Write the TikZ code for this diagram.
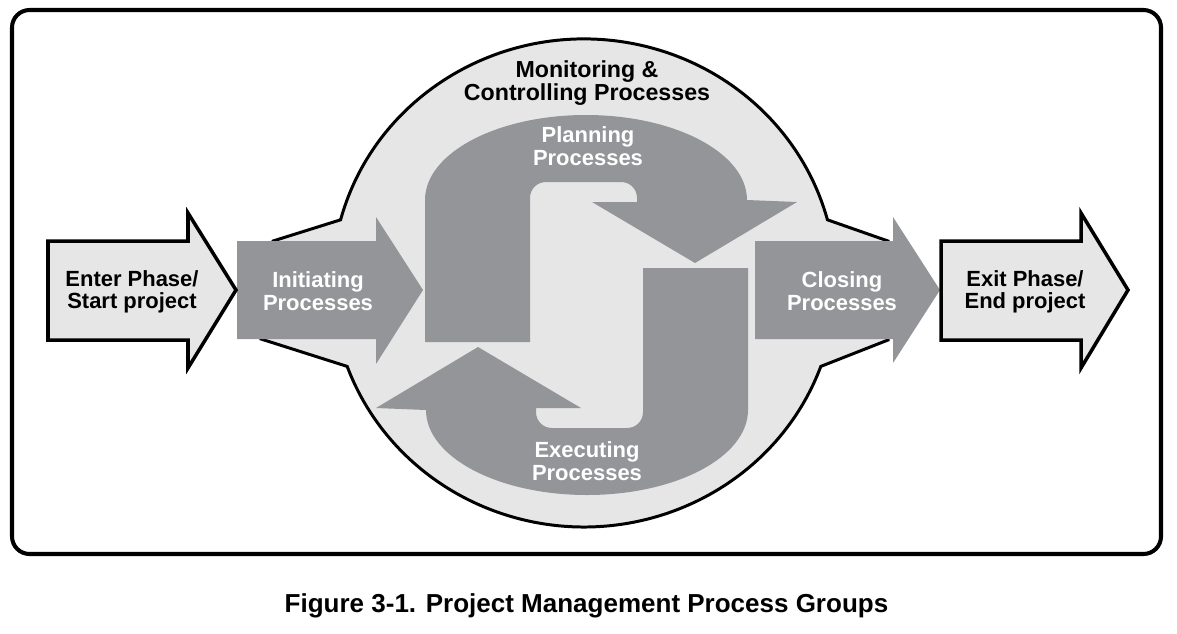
\documentclass[tikz,border=0pt]{standalone}
\usepackage{fontspec}
\setmainfont{Liberation Sans}
\usetikzlibrary{positioning}

\definecolor{processgray}{HTML}{939598}
\definecolor{phasegray}{HTML}{E6E6E6}

\begin{document}
\begin{tikzpicture}[x=0.02cm, y=-0.02cm,
        box_text/.style={font=\fontsize{12.5}{12.8}\selectfont\bfseries, align=center, inner sep=0pt},
        white_text/.style={box_text, text=white},
        process/.style={fill=processgray, draw=none},
        phase/.style={fill=phasegray, draw=black, line width=2pt, line join=miter}]
            \useasboundingbox (0, 0) rectangle (1177, 633);

            % frame
            \draw[line width=2.3pt, rounded corners=10] (12, 10) rectangle (1161, 554);

            % monitoring & controlling area
            \draw[fill=phasegray, line width=1.7pt, line join=miter]
                (273, 241) -- (340.6, 219.8)
                arc[start angle=195, end angle=345, x radius=252, y radius=244]
                -- (888, 241) -- (888, 340) -- (820.8, 366.4)
                arc[start angle=20, end angle=160, x radius=252, y radius=244]
                -- (261, 339) -- cycle;

            % planning and executing
            \fill[process] (425, 342) -- (425, 200)
                arc[start angle=180, end angle=360, x radius=161, y radius=85]
                -- (797, 202) -- (695, 263) -- (592, 202) -- (637, 202) -- (637, 198)
                .. controls (637, 189) and (630, 182) .. (621, 182) -- (546, 182)
                .. controls (537, 182) and (530, 189) .. (530, 198)
                -- (530, 342) -- cycle;
            \begin{scope}[rotate around={180:(586.5, 305)}]
                \fill[process] (425, 342) -- (425, 200)
                    arc[start angle=180, end angle=360, x radius=161, y radius=85]
                    -- (797, 202) -- (695, 263) -- (592, 202) -- (637, 202) -- (637, 198)
                    .. controls (637, 189) and (630, 182) .. (621, 182) -- (546, 182)
                    .. controls (537, 182) and (530, 189) .. (530, 198)
                    -- (530, 342) -- cycle;
            \end{scope}

            % initiating and closing
            \fill[process] (237, 241) -- (376, 241) -- (376, 217) -- (423, 290)
                -- (376, 364) -- (376, 339) -- (237, 339) -- cycle;
            \fill[process] (755, 241) -- (893, 241) -- (893, 217) -- (940, 290)
                -- (893, 363) -- (893, 339) -- (755, 339) -- cycle;

            % enter and exit
            \draw[phase] (48, 241) -- (188, 241) -- (188, 213) -- (236, 290)
                -- (188, 368) -- (188, 340) -- (48, 340) -- cycle;
            \draw[phase] (941, 241) -- (1081, 241) -- (1081, 213) -- (1128, 290)
                -- (1081, 368) -- (1081, 340) -- (941, 340) -- cycle;

            \node[box_text] (enter_phase) at (132, 292) {Enter Phase/\\Start project};
            \node[white_text] (initiating) at (318, 291) {Initiating\\Processes};
            \node[box_text, font=\fontsize{13.2}{12.8}\selectfont\bfseries] (monitoring) at (587, 83) {Monitoring \&\\Controlling Processes};
            \node[white_text] (planning) at (588, 146) {Planning\\Processes};
            \node[white_text] (executing) at (587, 461) {Executing\\Processes};
            \node[white_text] (closing) at (842, 291) {Closing\\Processes};
            \node[box_text] (exit_phase) at (1025, 292) {Exit Phase/\\End project};

            \node[font=\fontsize{14.8}{16}\selectfont\bfseries, anchor=base, inner sep=0pt] (caption)
                at (586.5, 612) {Figure 3-1. Project Management Process Groups};
        \end{tikzpicture}
\end{document}
